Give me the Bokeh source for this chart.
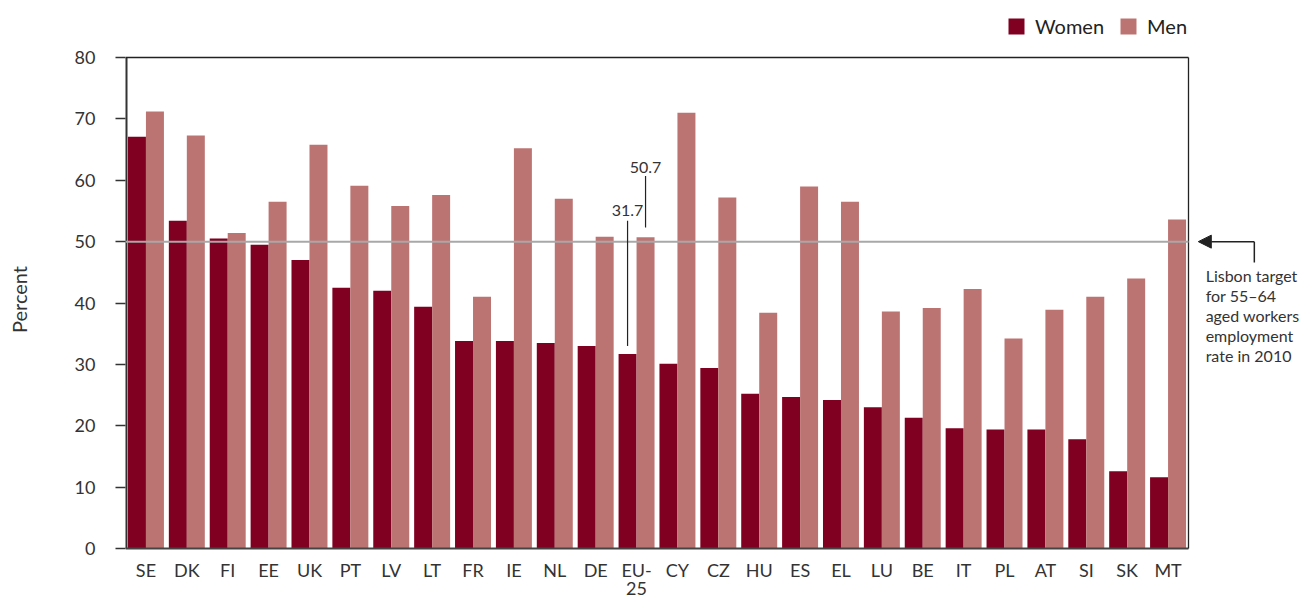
from bokeh.plotting import figure
from bokeh.models import (ColumnDataSource, Range1d, FixedTicker, Legend, LegendItem,
                          Label, Arrow, NormalHead)
from bokeh.core.properties import value
from bokeh.embed import file_html
from bokeh.resources import INLINE
import numpy as np

countries = ["SE", "DK", "FI", "EE", "UK", "PT", "LV", "LT", "FR", "IE", "NL", "DE", "EU-25",
             "CY", "CZ", "HU", "ES", "EL", "LU", "BE", "IT", "PL", "AT", "SI", "SK", "MT"]
women = [67.1, 53.4, 50.5, 49.5, 47.0, 42.5, 42.0, 39.4, 33.8, 33.8, 33.5, 33.0, 31.7,
         30.1, 29.4, 25.2, 24.7, 24.2, 23.0, 21.3, 19.6, 19.4, 19.4, 17.8, 12.6, 11.6]
men = [71.2, 67.3, 51.4, 56.5, 65.8, 59.1, 55.8, 57.6, 41.0, 65.2, 57.0, 50.8, 50.7,
       71.0, 57.2, 38.4, 59.0, 56.5, 38.6, 39.2, 42.3, 34.2, 38.9, 41.0, 44.0, 53.6]
y_ticks = [0, 10, 20, 30, 40, 50, 60, 70, 80]
y_top = 80
target = 50
target_text = "Lisbon target\nfor  55\u201364\naged workers\nemployment\nrate in 2010"
highlight = "EU-25"

FONT = "Lato"
WOMEN_C = "#800021"
MEN_C = "#bc7473"
TXT = "#333333"
BW = 0.44

# layout (pixels)
W, H = 1300, 598
FL = 125                 # frame left; frame fills the rest of the figure
PR, PT, PB = 1188, 57, 548   # right, top and bottom edge of the plotted box
n = len(countries)
ppx = (PR - FL) / n
ppy = (PB - PT) / y_top
x_max = (W - FL) / ppx
y_max = y_top + PT / ppy
y_min = -(H - PB) / ppy

centers = np.arange(n) + 0.5
src = ColumnDataSource(dict(xw=centers - BW / 2, xm=centers + BW / 2, women=women, men=men))

p = figure(width=W, height=H, output_backend="svg", toolbar_location=None,
           x_range=Range1d(0, x_max), y_range=Range1d(y_min, y_max),
           min_border_left=FL, min_border_right=0, min_border_top=0, min_border_bottom=0)
p.outline_line_color = None
p.xgrid.visible = False
p.ygrid.visible = False
p.xaxis.visible = False

rw = p.vbar(x="xw", top="women", width=BW, source=src, fill_color=WOMEN_C, line_color=None)
rm = p.vbar(x="xm", top="men", width=BW, source=src, fill_color=MEN_C, line_color=None)

# box: left axis line, bottom axis line, top and right border
p.segment(x0=[0], y0=[0], x1=[0], y1=[y_top], line_color="#333333", line_width=4)
p.segment(x0=[0], y0=[0], x1=[n], y1=[0], line_color="#444444", line_width=2)
p.segment(x0=[0, n], y0=[y_top, 0], x1=[n, n], y1=[y_top, y_top],
          line_color="#222222", line_width=1.3)

# target line
p.segment(x0=[0], y0=[target], x1=[n], y1=[target], line_color="#a8a8a8", line_width=2)

# category labels under the box
cat_labels = [c if c != "EU-25" else "EU-\n25" for c in countries]
p.text(x=centers, y=[-10 / ppy] * n, text=cat_labels, text_align="center",
       text_baseline="top", text_font=value(FONT), text_font_size="18px",
       text_color=TXT, text_line_height=0.82)

# y axis
p.yaxis.ticker = FixedTicker(ticks=y_ticks)
p.yaxis.minor_tick_line_color = None
p.yaxis.major_tick_out = 10
p.yaxis.major_tick_in = 0
p.yaxis.major_tick_line_color = "#333333"
p.yaxis.major_tick_line_width = 1.5
p.yaxis.axis_line_color = None
p.yaxis.major_label_text_font = FONT
p.yaxis.major_label_text_font_size = "18px"
p.yaxis.major_label_text_color = TXT
p.yaxis.major_label_standoff = 20
p.yaxis.axis_label = "Percent"
p.yaxis.axis_label_text_font = FONT
p.yaxis.axis_label_text_font_size = "20px"
p.yaxis.axis_label_text_font_style = "normal"
p.yaxis.axis_label_text_color = TXT
p.yaxis.axis_label_standoff = 41

# EU-25 callouts
i = countries.index(highlight)
xw = centers[i] - BW / 2
xm = centers[i] + BW / 2
p.segment(x0=[xw, xm], y0=[women[i] + 1.3, men[i] + 1.6],
          x1=[xw, xm], y1=[women[i] + 21.7, men[i] + 10.0],
          line_color="#222222", line_width=1.2)
p.add_layout(Label(x=xw, y=women[i] + 23.3, text=f"{women[i]:.1f}", text_align="center",
                   text_baseline="middle", text_font=FONT, text_font_size="16px",
                   text_color=TXT))
p.add_layout(Label(x=xm, y=men[i] + 11.4, text=f"{men[i]:.1f}", text_align="center",
                   text_baseline="middle", text_font=FONT, text_font_size="16px",
                   text_color=TXT))

# Lisbon target arrow and note
p.add_layout(Arrow(x_start=n + 1.61, y_start=target, x_end=n + 0.24, y_end=target,
                   line_color="#222222", line_width=1.5,
                   end=NormalHead(size=13, fill_color="#222222", line_color="#222222")))
p.segment(x0=[n + 1.61], y0=[target], x1=[n + 1.61], y1=[target - 3.4],
          line_color="#222222", line_width=1.5)
p.add_layout(Label(x=n + 0.42, y=target - 4.05, text=target_text, text_align="left",
                   text_baseline="top", text_font=FONT, text_font_size="16px",
                   text_color=TXT, text_line_height=1.05))

legend = Legend(items=[LegendItem(label="Women", renderers=[rw]),
                       LegendItem(label="Men", renderers=[rm])],
                orientation="horizontal", location=(1006 - FL, H - 38),
                glyph_width=20, glyph_height=20, label_standoff=9, spacing=14,
                padding=0, margin=0, border_line_color=None, background_fill_alpha=0,
                label_text_font=FONT, label_text_font_size="20px", label_text_color="#222222")
p.add_layout(legend)

open("out.html", "w").write(file_html(p, INLINE))
